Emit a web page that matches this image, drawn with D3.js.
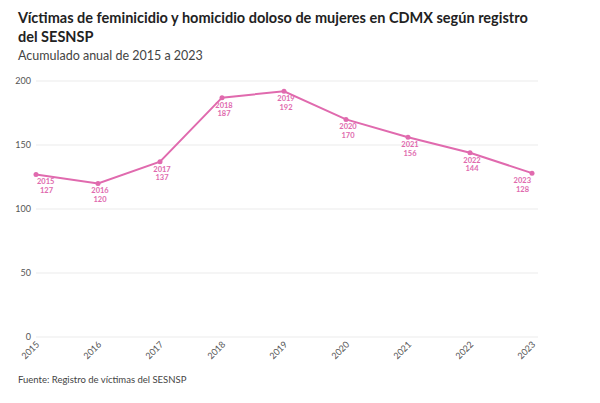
<!DOCTYPE html>
<html>
<head>
<meta charset="utf-8">
<script src="https://cdn.jsdelivr.net/npm/d3@7"></script>
<style>
  body { margin: 0; background: #fff; font-family: Lato, "Noto Sans", sans-serif; }
  .grid line { stroke: #ebebeb; }
</style>
</head>
<body>
<script>
var anios = [2015, 2016, 2017, 2018, 2019, 2020, 2021, 2022, 2023];
var victimas = [127, 120, 137, 187, 192, 170, 156, 144, 128];
var yTicks = [0, 50, 100, 150, 200];

var color = "#e06aae";

var svg = d3.select("body").append("svg").attr("width", 600).attr("height", 403);

// titulo
svg.append("text").attr("x", 18).attr("y", 23).attr("font-size", 14.5).attr("font-weight", 700).attr("fill", "#222")
  .text("Víctimas de feminicidio y homicidio doloso de mujeres en CDMX según registro");
svg.append("text").attr("x", 18).attr("y", 42).attr("font-size", 14.5).attr("font-weight", 700).attr("fill", "#222")
  .text("del SESNSP");
svg.append("text").attr("x", 18).attr("y", 60).attr("font-size", 12.5).attr("fill", "#444")
  .text("Acumulado anual de 2015 a 2023");

var x = d3.scalePoint().domain(anios).range([36, 532]);
var y = d3.scaleLinear().domain([0, 200]).range([337, 81]);

// rejilla
var grid = svg.append("g").attr("class", "grid");
grid.selectAll("line").data(yTicks).enter().append("line")
  .attr("x1", 36).attr("x2", 538)
  .attr("y1", function (d) { return y(d); })
  .attr("y2", function (d) { return y(d); });

svg.selectAll(".ylab").data(yTicks).enter().append("text")
  .attr("class", "ylab")
  .attr("x", 31).attr("y", function (d) { return y(d) + 3; })
  .attr("text-anchor", "end").attr("font-size", 9).attr("fill", "#555")
  .text(function (d) { return d; });

// eje x
svg.selectAll(".xlab").data(anios).enter().append("text")
  .attr("class", "xlab")
  .attr("transform", function (d) { return "translate(" + (x(d) + 4) + ",345) rotate(-45)"; })
  .attr("text-anchor", "end").attr("font-size", 9).attr("fill", "#555")
  .text(function (d) { return d; });

// linea
var linea = d3.line()
  .x(function (d, i) { return x(anios[i]); })
  .y(function (d) { return y(d); });

svg.append("path").datum(victimas)
  .attr("d", linea).attr("fill", "none").attr("stroke", color).attr("stroke-width", 2);

svg.selectAll(".punto").data(victimas).enter().append("circle")
  .attr("class", "punto")
  .attr("cx", function (d, i) { return x(anios[i]); })
  .attr("cy", function (d) { return y(d); })
  .attr("r", 2.5).attr("fill", color);

// etiquetas: año arriba, valor abajo
var n = anios.length;
function ancla(i) { return i == 0 ? "start" : (i == n - 1 ? "end" : "middle"); }
function posX(i, desp0, despN) { return x(anios[i]) + (i == 0 ? desp0 : (i == n - 1 ? despN : 2)); }

svg.selectAll(".etqAnio").data(victimas).enter().append("text")
  .attr("class", "etqAnio")
  .attr("font-size", 7.5).attr("font-weight", 700).attr("fill", color)
  .attr("text-anchor", function (d, i) { return ancla(i); })
  .attr("x", function (d, i) { return posX(i, 1, -1); })
  .attr("y", function (d) { return y(d) + 10; })
  .text(function (d, i) { return anios[i]; });

svg.selectAll(".etqValor").data(victimas).enter().append("text")
  .attr("class", "etqValor")
  .attr("font-size", 7.5).attr("font-weight", 700).attr("fill", color)
  .attr("text-anchor", function (d, i) { return ancla(i); })
  .attr("x", function (d, i) { return posX(i, 4, -3); })
  .attr("y", function (d) { return y(d) + 18.5; })
  .text(function (d) { return d; });

svg.append("text").attr("x", 18).attr("y", 383).attr("font-size", 9.5).attr("fill", "#444")
  .text("Fuente: Registro de víctimas del SESNSP");
</script>
</body>
</html>
